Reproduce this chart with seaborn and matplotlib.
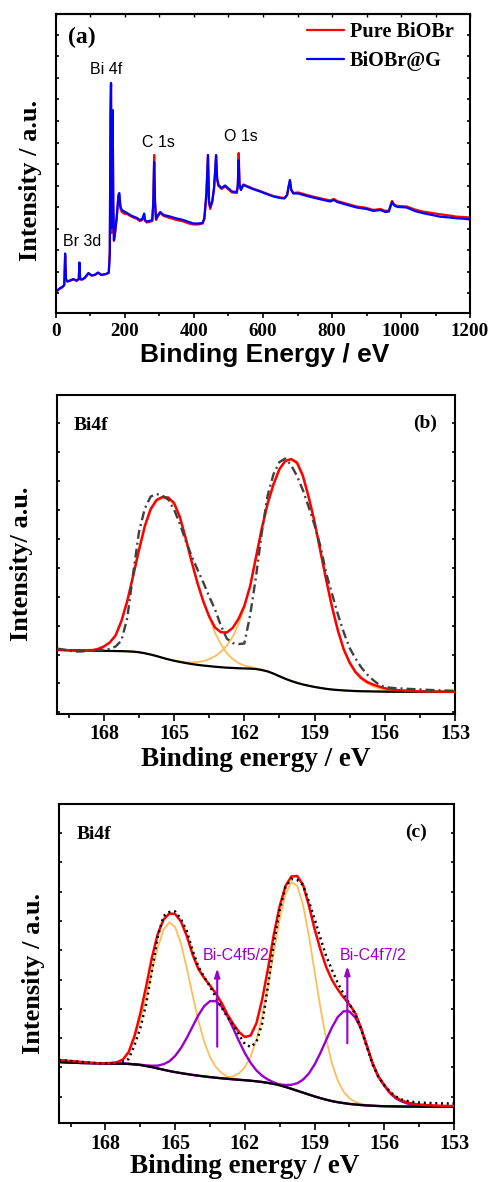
import matplotlib
matplotlib.use("Agg")
import matplotlib.pyplot as plt
from matplotlib.ticker import MultipleLocator, FixedLocator
import numpy as np
import seaborn as sns

# ---------------- (a) XPS survey spectra ----------------
survey_ev = [0, 5, 10, 18, 24, 26.5, 29, 33, 40, 50,
             60, 66, 68, 70, 76, 84, 94, 103, 112, 122,
             132, 145, 153, 156, 158, 159.5, 161, 163, 164.3, 166,
             168, 171, 176, 181, 183.5, 187, 191, 200, 206, 215,
             224, 235, 243, 250, 255.5, 258, 263, 270, 279, 282,
             284.5, 287, 290, 296, 302, 312, 330, 350, 369, 385,
             398, 412, 425, 430, 436, 440.5, 443.5, 447, 453, 458,
             461, 464, 467, 471, 480, 490, 500, 510, 524, 527,
             529.5, 532, 536, 543, 553, 570, 591, 610, 630, 650,
             662, 670, 674, 678, 682, 688, 702, 727, 750, 775,
             795, 805, 815, 840, 871, 900, 920, 940, 955, 965,
             970, 974, 980, 990, 1016, 1040, 1065, 1090, 1113, 1140,
             1161, 1180, 1200]
survey_pure = [21.0, 22.5, 24.0, 25.5, 28.0, 57.0, 33.5, 31.5, 32.0, 33.5,
               32.0, 34.0, 49.5, 33.5, 33.5, 35.0, 39.5, 37.5, 38.0, 40.0,
               38.0, 39.0, 40.0, 60.0, 195.0, 229.0, 80.0, 190.0, 196.0, 105.0,
               72.0, 79.0, 95.0, 116.0, 118.0, 104.0, 101.0, 99.0, 99.0, 97.0,
               95.5, 94.0, 92.0, 93.0, 98.0, 92.0, 90.5, 91.0, 92.0, 110.0,
               158.0, 112.0, 93.0, 97.0, 100.0, 97.0, 95.0, 93.0, 91.5, 89.5,
               88.5, 88.5, 89.5, 94.0, 118.0, 158.0, 110.0, 104.0, 111.0, 124.0,
               140.0, 157.0, 133.0, 127.0, 124.0, 126.5, 123.5, 120.5, 120.0, 128.0,
               160.0, 129.0, 123.5, 128.5, 127.0, 124.5, 122.0, 119.5, 117.0, 115.5,
               115.0, 118.0, 126.0, 132.0, 123.0, 120.0, 120.5, 118.0, 116.0, 114.0,
               112.5, 114.0, 112.0, 109.5, 106.5, 105.0, 103.0, 104.0, 102.0, 102.5,
               108.0, 112.0, 108.5, 107.0, 106.5, 103.5, 101.3, 100.0, 98.7, 97.5,
               96.3, 96.0, 95.5]
survey_biobr_g = [22.0, 23.0, 24.5, 26.0, 28.0, 59.5, 34.0, 31.5, 32.5, 34.0,
                  32.5, 34.0, 50.5, 34.0, 33.5, 35.5, 40.0, 37.5, 38.0, 40.5,
                  38.0, 39.0, 40.5, 60.0, 200.0, 230.0, 85.0, 198.0, 203.0, 110.0,
                  73.0, 80.0, 96.0, 118.0, 120.0, 106.0, 103.0, 101.0, 100.0, 98.0,
                  96.5, 95.0, 93.0, 94.0, 99.5, 93.0, 91.5, 92.0, 93.0, 110.0,
                  151.0, 110.0, 94.0, 98.0, 101.0, 98.0, 96.5, 94.5, 93.0, 91.0,
                  89.5, 89.5, 90.0, 95.0, 120.0, 158.0, 112.0, 106.0, 112.0, 125.0,
                  140.0, 158.0, 135.0, 128.0, 125.0, 127.5, 124.5, 121.5, 121.0, 127.0,
                  153.0, 128.0, 123.0, 128.0, 126.5, 124.0, 121.5, 119.0, 116.5, 115.0,
                  114.5, 118.0, 126.0, 133.0, 123.0, 119.5, 119.5, 117.0, 115.0, 113.0,
                  111.5, 113.0, 111.0, 108.5, 105.5, 104.0, 102.0, 103.0, 101.0, 101.5,
                  107.0, 111.0, 107.5, 106.0, 105.5, 102.0, 99.7, 98.0, 96.3, 95.5,
                  94.7, 94.3, 93.5]

# ---------------- (b), (c) Bi 4f, sampled every 0.25 eV, 170 -> 153 eV ----------------
be_grid = np.arange(170.0, 152.99, -0.25)

b_raw = [65.5, 64.5, 63.5, 62.5, 62.5, 63.0, 63.5, 64.0, 64.3, 65.0,
         67.5, 73.5, 96.0, 140.0, 182.0, 205.5, 217.5, 220.0, 218.5, 214.5,
         204.5, 190.0, 173.0, 158.0, 144.5, 131.5, 117.5, 104.5, 88.5, 75.5,
         71.0, 70.0, 70.5, 99.0, 137.5, 182.0, 219.0, 240.0, 252.0, 255.5,
         249.0, 238.0, 224.0, 207.0, 189.0, 168.0, 140.5, 120.0, 99.5, 81.5,
         66.0, 55.5, 46.5, 39.5, 34.0, 29.5, 27.0, 26.3, 25.8, 25.5,
         25.2, 24.9, 24.6, 24.3, 24.0, 23.8, 23.6, 23.4, 23.3]
b_fit = [64.7, 64.2, 63.8, 63.5, 63.3, 63.3, 63.6, 65.0, 67.5, 71.5,
         78.5, 93.0, 113.0, 138.0, 164.0, 188.0, 205.0, 214.0, 217.0, 216.5,
         211.0, 197.0, 175.5, 152.5, 131.0, 112.5, 97.5, 86.5, 81.8, 81.5,
         86.0, 95.0, 108.0, 128.0, 157.0, 186.0, 211.0, 230.0, 245.0, 253.0,
         255.0, 251.5, 238.5, 217.0, 192.5, 163.0, 134.0, 107.0, 83.5, 64.5,
         51.5, 42.0, 36.0, 32.0, 29.5, 27.5, 25.8, 24.6, 24.0, 23.6,
         23.3, 23.0, 22.8, 22.6, 22.5, 22.4, 22.3, 22.3, 22.3]
b_background = [64.0, 63.9, 63.8, 63.7, 63.6, 63.5, 63.4, 63.3, 63.2, 63.1,
                63.0, 62.9, 62.7, 62.4, 61.8, 60.8, 59.5, 58.0, 56.3, 54.7,
                53.3, 52.1, 51.0, 50.0, 49.2, 48.5, 47.9, 47.3, 46.8, 46.4,
                46.1, 45.8, 45.6, 45.4, 45.0, 44.0, 42.6, 40.4, 37.8, 35.3,
                33.1, 31.2, 29.6, 28.3, 27.1, 26.1, 25.2, 24.5, 24.0, 23.6,
                23.3, 23.0, 22.8, 22.7, 22.6, 22.5, 22.4, 22.3, 22.3, 22.3,
                22.3, 22.3, 22.3, 22.3, 22.3, 22.3, 22.3, 22.3, 22.3]
b_bi4f52 = [0.0, 0.0, 0.0, 0.2, 0.4, 0.7, 1.2, 2.3, 4.5, 8.2,
            15.0, 29.5, 49.5, 75.0, 101.0, 126.0, 144.5, 155.0, 159.5, 160.5,
            156.5, 143.5, 123.5, 102.0, 81.5, 63.5, 49.0, 34.0, 23.0, 14.5,
            8.9, 5.3, 3.0, 1.6, 0.8, 0.4, 0.2, 0.1, 0.0, 0.0,
            0.0, 0.0, 0.0, 0.0, 0.0, 0.0, 0.0, 0.0, 0.0, 0.0,
            0.0, 0.0, 0.0, 0.0, 0.0, 0.0, 0.0, 0.0, 0.0, 0.0,
            0.0, 0.0, 0.0, 0.0, 0.0, 0.0, 0.0, 0.0, 0.0]
b_bi4f72 = [0.0, 0.0, 0.0, 0.0, 0.0, 0.0, 0.0, 0.0, 0.0, 0.0,
            0.0, 0.0, 0.0, 0.0, 0.0, 0.0, 0.0, 0.0, 0.0, 0.0,
            0.2, 0.5, 0.9, 1.6, 2.8, 4.5, 7.0, 10.5, 15.5, 22.0,
            31.0, 44.0, 61.0, 82.0, 110.0, 140.0, 166.0, 188.0, 206.0, 218.5,
            221.0, 219.0, 207.5, 187.5, 164.0, 136.0, 108.0, 80.0, 58.0, 40.0,
            27.0, 18.0, 12.0, 8.0, 5.0, 3.0, 1.8, 1.0, 0.5, 0.3,
            0.1, 0.0, 0.0, 0.0, 0.0, 0.0, 0.0, 0.0, 0.0]

c_raw = [63.0, 62.5, 62.0, 61.5, 61.0, 60.5, 60.0, 59.8, 59.6, 59.6,
         59.8, 61.5, 64.0, 78.0, 95.0, 119.0, 152.0, 186.0, 207.0, 211.0,
         211.5, 204.0, 192.0, 172.5, 156.5, 146.0, 136.5, 126.0, 115.5, 106.0,
         98.0, 88.0, 79.0, 76.0, 81.0, 100.0, 138.0, 180.0, 213.0, 236.0,
         244.0, 243.0, 238.0, 222.0, 204.0, 185.0, 167.0, 153.0, 140.0, 129.0,
         119.0, 109.0, 94.0, 76.0, 58.5, 46.0, 38.0, 31.0, 26.5, 23.5,
         22.0, 21.0, 20.5, 20.2, 20.0, 19.8, 19.6, 19.5, 19.5]
c_fit = [63.0, 62.5, 62.0, 61.5, 61.0, 60.5, 60.0, 59.8, 59.8, 60.0,
         60.8, 63.5, 71.0, 87.0, 109.5, 136.5, 165.5, 189.0, 203.5, 209.5,
         209.0, 201.5, 187.0, 168.5, 154.0, 145.0, 137.5, 129.5, 120.0, 108.5,
         99.0, 91.0, 86.0, 87.5, 100.0, 124.0, 155.0, 189.0, 217.0, 237.0,
         246.5, 247.0, 238.5, 218.0, 194.0, 173.5, 156.0, 143.0, 133.5, 125.5,
         118.5, 110.0, 95.0, 77.5, 59.5, 46.5, 38.0, 30.5, 25.5, 22.5,
         20.5, 19.3, 18.5, 18.0, 17.7, 17.4, 17.2, 17.0, 17.0]
c_background = [61.0, 60.7, 60.4, 60.2, 60.0, 59.9, 59.8, 59.7, 59.6, 59.5,
                59.4, 59.3, 59.1, 58.7, 58.0, 57.0, 55.9, 54.6, 53.3, 52.0,
                50.9, 49.9, 49.0, 48.1, 47.3, 46.6, 45.9, 45.3, 44.7, 44.2,
                43.7, 43.2, 42.8, 42.3, 41.7, 41.0, 40.1, 39.0, 37.6, 36.0,
                34.2, 32.3, 30.4, 28.5, 26.6, 24.9, 23.3, 21.9, 20.8, 19.9,
                19.1, 18.5, 18.0, 17.6, 17.3, 17.0, 16.8, 16.7, 16.6, 16.5,
                16.4, 16.4, 16.3, 16.3, 16.3, 16.3, 16.3, 16.3, 16.3]
c_bi4f52 = [0.0, 0.0, 0.0, 0.0, 0.0, 0.0, 0.1, 0.2, 0.7, 0.8,
            1.5, 4.0, 11.0, 27.0, 46.2, 69.4, 95.6, 120.8, 140.0, 148.7,
            144.9, 129.5, 106.1, 79.7, 54.9, 34.7, 20.1, 10.7, 5.2, 2.3,
            1.0, 0.4, 0.1, 0.0, 0.0, 0.0, 0.0, 0.0, 0.0, 0.0,
            0.0, 0.0, 0.0, 0.0, 0.0, 0.0, 0.0, 0.0, 0.0, 0.0,
            0.0, 0.0, 0.0, 0.0, 0.0, 0.0, 0.0, 0.0, 0.0, 0.0,
            0.0, 0.0, 0.0, 0.0, 0.0, 0.0, 0.0, 0.0, 0.0]
c_bi4f72 = [0.0, 0.0, 0.0, 0.0, 0.0, 0.0, 0.0, 0.0, 0.0, 0.0,
            0.0, 0.0, 0.0, 0.0, 0.0, 0.0, 0.0, 0.0, 0.0, 0.0,
            0.0, 0.0, 0.0, 0.0, 0.0, 0.0, 0.0, 0.2, 0.5, 1.3,
            3.0, 6.5, 13.0, 24.2, 41.6, 66.1, 97.2, 132.1, 165.9, 192.6,
            206.7, 205.1, 188.1, 159.5, 125.0, 90.6, 60.7, 37.6, 21.5, 11.4,
            5.6, 2.5, 1.1, 0.4, 0.1, 0.0, 0.0, 0.0, 0.0, 0.0,
            0.0, 0.0, 0.0, 0.0, 0.0, 0.0, 0.0, 0.0, 0.0]
c_bic52 = [0.0, 0.0, 0.0, 0.0, 0.0, 0.0, 0.0, 0.0, 0.0, 0.0,
           0.0, 0.0, 0.0, 0.0, 0.3, 0.6, 1.4, 2.8, 5.5, 9.7,
           16.2, 25.1, 36.1, 48.4, 60.5, 70.3, 76.0, 76.6, 71.8, 62.7,
           50.9, 38.5, 27.1, 17.8, 10.8, 6.2, 3.3, 1.6, 0.7, 0.3,
           0.1, 0.0, 0.0, 0.0, 0.0, 0.0, 0.0, 0.0, 0.0, 0.0,
           0.0, 0.0, 0.0, 0.0, 0.0, 0.0, 0.0, 0.0, 0.0, 0.0,
           0.0, 0.0, 0.0, 0.0, 0.0, 0.0, 0.0, 0.0, 0.0]
c_bic72 = [0.0, 0.0, 0.0, 0.0, 0.0, 0.0, 0.0, 0.0, 0.0, 0.0,
           0.0, 0.0, 0.0, 0.0, 0.0, 0.0, 0.0, 0.0, 0.0, 0.0,
           0.0, 0.0, 0.0, 0.0, 0.0, 0.0, 0.0, 0.0, 0.0, 0.0,
           0.0, 0.0, 0.0, 0.0, 0.0, 0.0, 0.0, 0.4, 0.9, 2.0,
           4.0, 7.4, 12.9, 20.9, 31.8, 45.1, 59.7, 73.8, 85.2, 91.9,
           92.5, 87.0, 76.4, 59.5, 42.0, 29.0, 20.5, 13.0, 8.0, 5.0,
           3.0, 1.8, 1.0, 0.5, 0.2, 0.0, 0.0, 0.0, 0.0]

RED = "#FF0000"
BLUE = "#0000FF"
ORANGE = "#FFBE55"
PURPLE = "#9900CC"

sns.set_theme(style="ticks")
plt.rcParams["font.family"] = ["Liberation Serif", "DejaVu Serif"]
plt.rcParams["font.weight"] = "bold"
plt.rcParams["axes.linewidth"] = 1.5
plt.rcParams["axes.edgecolor"] = "black"
plt.rcParams["axes.labelcolor"] = "black"
plt.rcParams["text.color"] = "black"
plt.rcParams["xtick.color"] = "black"
plt.rcParams["ytick.color"] = "black"

fig = plt.figure(figsize=(4.92, 11.82), dpi=100)
ax_a = fig.add_axes([0.1138, 0.7352, 0.8415, 0.2530])
ax_b = fig.add_axes([0.1159, 0.3959, 0.8089, 0.2699])
ax_c = fig.add_axes([0.1199, 0.0499, 0.8028, 0.2699])

# ---------- (a) ----------
sns.lineplot(x=survey_ev, y=survey_pure, ax=ax_a, color=RED, linewidth=1.6,
             label="Pure BiOBr", estimator=None, sort=False)
sns.lineplot(x=survey_ev, y=survey_biobr_g, ax=ax_a, color=BLUE, linewidth=1.6,
             label="BiOBr@G", estimator=None, sort=False)
ax_a.set_xlim(0, 1200)
ax_a.set_ylim(0, 299)
ax_a.xaxis.set_major_locator(MultipleLocator(200))
ax_a.xaxis.set_minor_locator(MultipleLocator(100))
ax_a.yaxis.set_major_locator(FixedLocator(np.arange(19.7, 299, 21.53)))
ax_a.tick_params(axis="x", which="both", direction="out", width=1.2,
                 labelsize=13.7, pad=3.5)
ax_a.tick_params(axis="x", which="major", length=3.5)
ax_a.tick_params(axis="x", which="minor", length=2.5)
ax_a.tick_params(axis="y", which="both", direction="in", left=True, right=True,
                 labelleft=False, length=2.5, width=1.2)
top = ax_a.secondary_xaxis("top")
top.xaxis.set_major_locator(MultipleLocator(100))
top.tick_params(axis="x", which="both", direction="in", length=2.5, width=1.0,
                labeltop=False, labelbottom=False)

leg = ax_a.legend(loc="upper left", bbox_to_anchor=(0.6056, 0.972), frameon=False,
                  borderpad=0, borderaxespad=0, handlelength=1.85, handletextpad=0.28,
                  labelspacing=0.42,
                  prop={"family": "Liberation Serif", "weight": "bold", "size": 14.6})

ax_a.set_xlabel("Binding Energy / eV", fontfamily="Liberation Sans",
                fontweight="bold", fontsize=19)
ax_a.xaxis.set_label_coords(0.505, -0.100)
ax_a.set_ylabel("Intensity / a.u.", fontsize=19, fontweight="bold")
ax_a.yaxis.set_label_coords(-0.0346, 0.443)

ax_a.text(34.8, 275.5, "(a)", fontsize=17, fontweight="bold", ha="left", va="center")
sans = dict(fontfamily="Liberation Sans", fontweight="normal", fontsize=11.5,
            ha="center", va="center")
ax_a.text(146, 243, "Bi 4f", **sans)
ax_a.text(297, 170, "C 1s", **sans)
ax_a.text(535, 176, "O 1s", **sans)
ax_a.text(77, 71, "Br 3d", **sans)


# ---------- (b) and (c) shared styling ----------
def style_bi4f(ax, yticks, pad):
    ax.set_xlim(170, 153)
    ax.set_ylim(0, 319)
    ax.xaxis.set_major_locator(MultipleLocator(3))
    ax.xaxis.set_minor_locator(MultipleLocator(1.5))
    ax.yaxis.set_major_locator(FixedLocator(yticks))
    ax.tick_params(axis="x", which="both", direction="out", width=1.2,
                   labelsize=14.4, pad=pad, top=False)
    ax.tick_params(axis="x", which="major", length=4.8)
    ax.tick_params(axis="x", which="minor", length=3.0)
    ax.tick_params(axis="y", which="both", direction="in", left=True, right=True,
                   labelleft=False, length=2.4, width=1.2)


# ---------- (b) ----------
for comp in (b_bi4f52, b_bi4f72):
    sns.lineplot(x=be_grid, y=np.array(b_background) + np.array(comp), ax=ax_b,
                 color=ORANGE, linewidth=1.3, estimator=None, sort=False, zorder=2)
sns.lineplot(x=be_grid, y=b_background, ax=ax_b, color="black", linewidth=1.6,
             estimator=None, sort=False, zorder=3)
sns.lineplot(x=be_grid, y=b_fit, ax=ax_b, color=RED, linewidth=1.8,
             estimator=None, sort=False, zorder=4)
sns.lineplot(x=be_grid, y=b_raw, ax=ax_b, color="#404040", linewidth=1.7,
             linestyle=(0, (3.8, 1.7, 0.85, 1.7)), estimator=None, sort=False, zorder=5)
style_bi4f(ax_b, np.arange(1.7, 319, 28.9), 2.5)
ax_b.set_xlabel("Binding energy / eV", fontsize=19.5, fontweight="bold")
ax_b.xaxis.set_label_coords(0.4995, -0.103)
ax_b.set_ylabel("Intensity/ a.u.", fontsize=19, fontweight="bold")
ax_b.yaxis.set_label_coords(-0.0595, 0.470)
ax_b.text(169.27, 289, "Bi4f", fontsize=14, fontweight="bold", ha="left", va="center")
ax_b.text(154.27, 291, "(b)", fontsize=14, fontweight="bold", ha="center", va="center")

# ---------- (c) ----------
for comp in (c_bi4f52, c_bi4f72):
    sns.lineplot(x=be_grid, y=np.array(c_background) + np.array(comp), ax=ax_c,
                 color=ORANGE, linewidth=1.3, estimator=None, sort=False, zorder=2)
for comp in (c_bic52, c_bic72):
    sns.lineplot(x=be_grid, y=np.array(c_background) + np.array(comp), ax=ax_c,
                 color=PURPLE, linewidth=1.7, estimator=None, sort=False, zorder=2)
sns.lineplot(x=be_grid, y=c_background, ax=ax_c, color="black", linewidth=1.6,
             estimator=None, sort=False, zorder=3)
sns.lineplot(x=be_grid, y=c_fit, ax=ax_c, color=RED, linewidth=1.8,
             estimator=None, sort=False, zorder=4)
sns.lineplot(x=be_grid, y=c_raw, ax=ax_c, color="black", linewidth=1.8,
             linestyle=(0, (0.8, 1.5)), estimator=None, sort=False, zorder=5)
style_bi4f(ax_c, np.arange(26.3, 319, 29.3), 3.0)
ax_c.set_xlabel("Binding energy / eV", fontsize=19.5, fontweight="bold")
ax_c.xaxis.set_label_coords(0.471, -0.097)
ax_c.set_ylabel("Intensity / a.u.", fontsize=19, fontweight="bold")
ax_c.yaxis.set_label_coords(-0.0354, 0.469)
ax_c.text(169.25, 288, "Bi4f", fontsize=14, fontweight="bold", ha="left", va="center")
ax_c.text(154.63, 291, "(c)", fontsize=14, fontweight="bold", ha="center", va="center")

psans = dict(fontfamily="Liberation Sans", fontweight="normal", fontsize=11.5,
             color=PURPLE, ha="center", va="center")
ax_c.text(162.37, 168, "Bi-C4f5/2", **psans)
ax_c.text(156.48, 168, "Bi-C4f7/2", **psans)
for x0, y0, y1 in ((163.19, 76.3, 154.7), (157.59, 79.7, 157.0)):
    ax_c.annotate("", xy=(x0, y1), xytext=(x0, y0), zorder=6,
                  arrowprops=dict(arrowstyle="-|>,head_length=0.5,head_width=0.16",
                                  color=PURPLE, lw=1.5, shrinkA=0, shrinkB=0,
                                  mutation_scale=10))

fig.savefig("out.png", dpi=100)
